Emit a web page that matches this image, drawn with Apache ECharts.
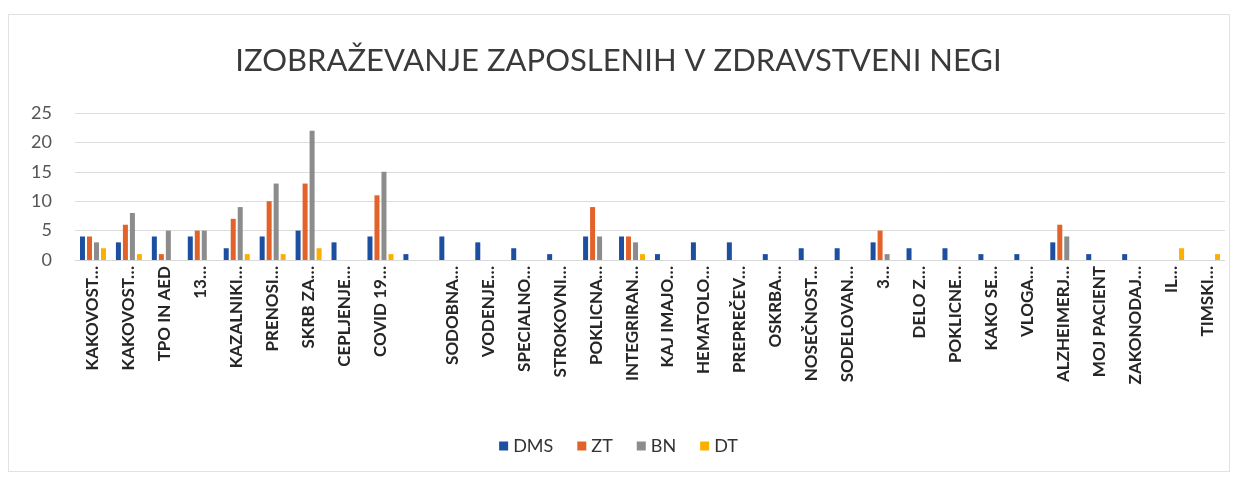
<!DOCTYPE html>
<html>
<head>
<meta charset="utf-8">
<script src="https://cdn.jsdelivr.net/npm/echarts@6/dist/echarts.min.js"></script>
<style>
html,body{margin:0;padding:0;background:#fff;}
#frame{position:absolute;left:8px;top:14px;width:1222px;height:458px;border:1px solid #e2e2e2;box-sizing:border-box;}
#chart{position:absolute;left:0;top:0;width:1237px;height:479px;}
</style>
</head>
<body>
<div id="frame"></div>
<div id="chart"></div>
<script>
const categories = [
  'KAKOVOST…','KAKOVOST…','TPO IN AED','13…','KAZALNIKI…','PRENOSI…','SKRB ZA…','CEPLJENJE…','COVID 19…','',
  'SODOBNA…','VODENJE…','SPECIALNO…','STROKOVNI…','POKLICNA…','INTEGRIRAN…','KAJ IMAJO…','HEMATOLO…','PREPREČEV…','OSKRBA…',
  'NOSEČNOST…','SODELOVAN…','3…','DELO Z…','POKLICNE…','KAKO SE…','VLOGA…','ALZHEIMERJ…','MOJ PACIENT','ZAKONODAJ…',
  'IL…','TIMSKI…'
];
const seriesNames = ['DMS','ZT','BN','DT'];
const dms = [4,3,4,4,2,4,5,3,4,1, 4,3,2,1,4,4,1,3,3,1, 2,2,3,2,2,1,1,3,1,1, 0,0];
const zt  = [4,6,1,5,7,10,13,0,11,0, 0,0,0,0,9,4,0,0,0,0, 0,0,5,0,0,0,0,6,0,0, 0,0];
const bn  = [3,8,5,5,9,13,22,0,15,0, 0,0,0,0,4,3,0,0,0,0, 0,0,1,0,0,0,0,4,0,0, 0,0];
const dt  = [2,1,0,0,1,1,2,0,1,0, 0,0,0,0,0,1,0,0,0,0, 0,0,0,0,0,0,0,0,0,0, 2,1];
const yTicks = [0,5,10,15,20,25];
const colors = ['#1c4f9f','#e2622a','#8c8c8c','#fbb000'];

const chart = echarts.init(document.getElementById('chart'), null, {renderer:'canvas'});
const values = [dms, zt, bn, dt];
chart.setOption({
  animation:false,
  color: colors,
  title:{
    text:'IZOBRAŽEVANJE ZAPOSLENIH V ZDRAVSTVENI NEGI',
    left:'center', top:40,
    textStyle:{fontFamily:'Lato', fontWeight:'normal', fontSize:31, color:'#3a3a3a'}
  },
  legend:{
    bottom:19, left:'center',
    itemWidth:9, itemHeight:9, itemGap:24,
    icon:'rect',
    textStyle:{fontFamily:'Lato', fontSize:18, color:'#333'},
    data: seriesNames
  },
  grid:{left:75, right:12, top:113, bottom:219, containLabel:false},
  xAxis:{
    type:'category',
    data: categories,
    axisLine:{lineStyle:{color:'#d9d9d9'}},
    axisTick:{show:false},
    axisLabel:{rotate:90, interval:0, fontFamily:'Lato', fontWeight:'bold', fontSize:17, color:'#262626', margin:6}
  },
  yAxis:{
    type:'value', min:yTicks[0], max:yTicks[yTicks.length-1], interval:5,
    axisLine:{show:false}, axisTick:{show:false},
    splitLine:{lineStyle:{color:'#dcdcdc', width:1}},
    axisLabel:{fontFamily:'Lato', fontSize:18, color:'#555', margin:23}
  },
  series: seriesNames.map((n,i)=>({
    name:n, type:'bar', data:values[i],
    barWidth:5, barGap:'40%'
  }))
});
</script>
</body>
</html>
